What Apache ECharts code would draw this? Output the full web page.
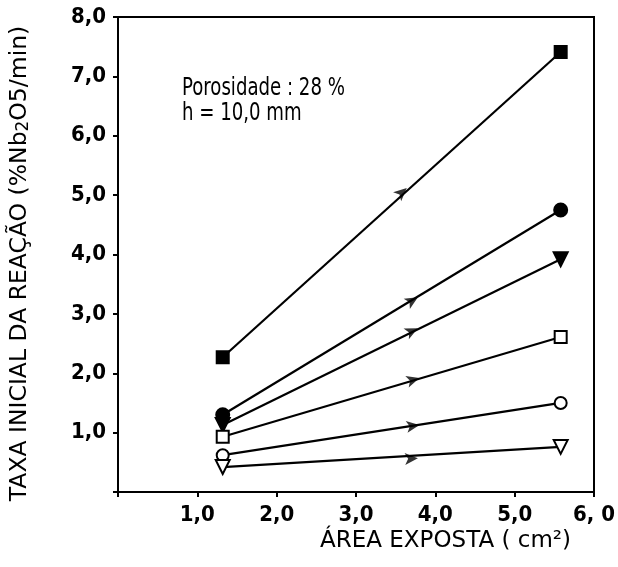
<!DOCTYPE html>
<html><head><meta charset="utf-8">
<script src="https://cdn.jsdelivr.net/npm/echarts/dist/echarts.min.js"></script>
<style>html,body{margin:0;padding:0;background:#fff}#c{width:618px;height:567px}</style>
</head><body><div id="c"></div>
<script>
// ---- data ----
const xTickLabels = ['1,0', '2,0', '3,0', '4,0', '5,0', '6, 0'];
const yTickLabels = ['1,0', '2,0', '3,0', '4,0', '5,0', '6,0', '7,0', '8,0'];
const areaX = [1.32, 5.58];
const filledSquare = [2.27, 7.41];
const filledCircle = [1.30, 4.75];
const filledTriangle = [1.13, 3.92];
const openSquare = [0.93, 2.61];
const openCircle = [0.62, 1.50];
const openTriangle = [0.42, 0.76];
const arrowX = [3.64, 3.78, 3.78, 3.80, 3.80, 3.78];
const arrowY = [5.12, 3.28, 2.76, 1.92, 1.13, 0.57];

const NARROW = '"DejaVu Sans Condensed", "DejaVu Sans", sans-serif';
const seriesDefs = [
  {vals: filledSquare, symbol: 'rect', fill: '#000', size: 12, rot: 0},
  {vals: filledCircle, symbol: 'circle', fill: '#000', size: 13, rot: 0},
  {vals: filledTriangle, symbol: 'triangle', fill: '#000', size: 14, rot: 180},
  {vals: openSquare, symbol: 'rect', fill: '#fff', size: 12, rot: 0},
  {vals: openCircle, symbol: 'circle', fill: '#fff', size: 12, rot: 0},
  {vals: openTriangle, symbol: 'triangle', fill: '#fff', size: 14, rot: 180}
];

const chart = echarts.init(document.getElementById('c'), null, {renderer: 'canvas'});

function lineSeries() {
  return seriesDefs.map(d => ({
    type: 'line',
    data: areaX.map((x, i) => [x, d.vals[i]]),
    symbol: d.symbol,
    symbolSize: d.size,
    symbolRotate: d.rot,
    showAllSymbol: true,
    lineStyle: {color: '#000', width: 2.2},
    itemStyle: {color: d.fill, borderColor: '#000', borderWidth: 2},
    z: 3,
    animation: false
  }));
}

const labelStyle = {color: '#000', fontFamily: NARROW, fontSize: 22, fontWeight: 'bold'};

const option = {
  animation: false,
  backgroundColor: '#fff',
  grid: {left: 117, right: 24, top: 17, bottom: 75, show: true, borderColor: '#000', borderWidth: 2, backgroundColor: 'transparent'},
  xAxis: {
    type: 'value', min: 0, max: 6, interval: 1,
    axisLine: {lineStyle: {color: '#000', width: 2}},
    axisTick: {length: 5, lineStyle: {color: '#000', width: 2}},
    splitLine: {show: false},
    axisLabel: Object.assign({}, labelStyle, {margin: 12,
      formatter: v => v === 0 ? '' : xTickLabels[Math.round(v) - 1]})
  },
  yAxis: {
    type: 'value', min: 0, max: 8, interval: 1,
    axisLine: {lineStyle: {color: '#000', width: 2}},
    axisTick: {length: 5, lineStyle: {color: '#000', width: 2}},
    splitLine: {show: false},
    axisLabel: Object.assign({}, labelStyle, {margin: 12,
      formatter: v => v === 0 ? '' : yTickLabels[Math.round(v) - 1]}),
    name: '{a|TAXA INICIAL DA REAÇÃO (%Nb}{s|2}{a|O5/min)}',
    nameLocation: 'middle', nameGap: 86,
    nameTextStyle: {padding: [0, 18, 0, 0], rich: {
      a: {fontFamily: '"DejaVu Sans", sans-serif', fontSize: 23.5, color: '#000'},
      s: {fontFamily: '"DejaVu Sans", sans-serif', fontSize: 17, color: '#000', padding: [7, 0, 0, 0]}
    }}
  },
  graphic: [
    {type: 'text', left: 182, top: 77, scaleX: 0.84, style: {text: 'Porosidade : 28 %', font: '24px ' + NARROW, fill: '#000'}},
    {type: 'text', left: 182, top: 102, scaleX: 0.84, style: {text: 'h = 10,0 mm', font: '24px ' + NARROW, fill: '#000'}},
    {type: 'text', left: 320, top: 530, style: {text: 'ÁREA EXPOSTA ( cm²)', font: '23px "DejaVu Sans", sans-serif', fill: '#000'}}
  ],
  series: lineSeries()
};
chart.setOption(option);

// direction arrows drawn along each line, rotated to the line angle
const arrowData = arrowX.map((x, i) => {
  const d = seriesDefs[i];
  const p0 = chart.convertToPixel({gridIndex: 0}, [areaX[0], d.vals[0]]);
  const p1 = chart.convertToPixel({gridIndex: 0}, [areaX[1], d.vals[1]]);
  const ang = Math.atan2(-(p1[1] - p0[1]), p1[0] - p0[0]) * 180 / Math.PI;
  return {value: [x, arrowY[i]], symbolRotate: ang - 90};
});
chart.setOption({series: lineSeries().concat([{
  type: 'scatter', data: arrowData, symbol: 'arrow', symbolSize: [9, 13],
  itemStyle: {color: '#000'}, z: 4, animation: false
}])});
</script></body></html>
